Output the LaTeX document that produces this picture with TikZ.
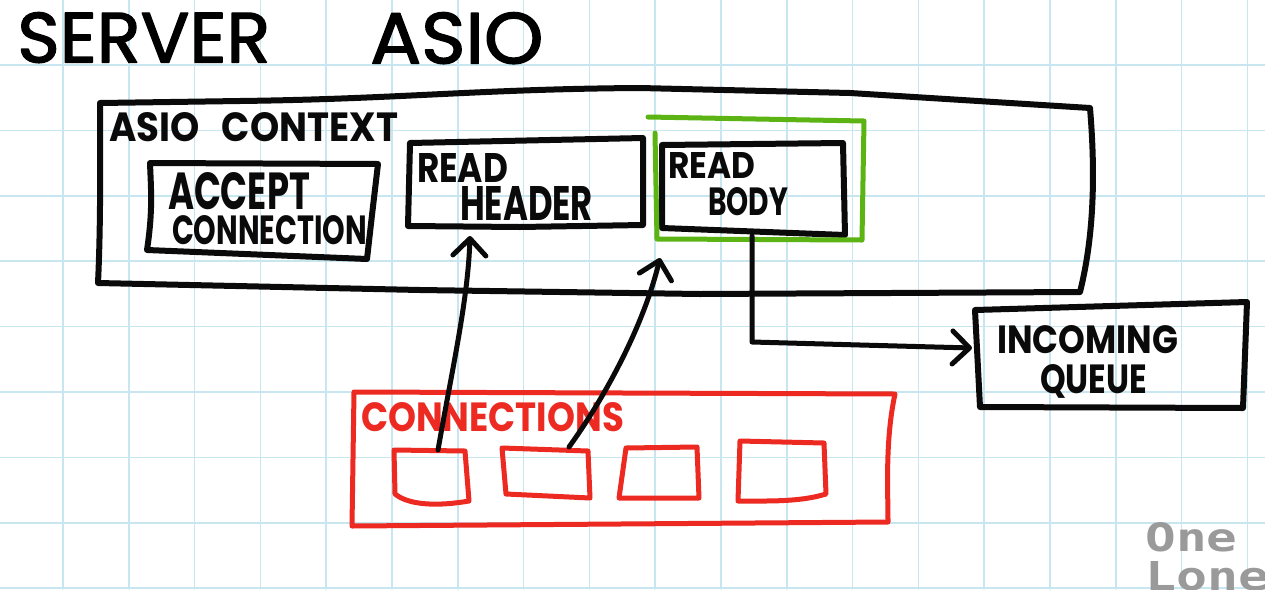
\documentclass[tikz,border=0pt]{standalone}
\usepackage{fontspec}
\setmainfont{Poppins}
\newfontfamily\titlefont{Poppins}[FakeBold=2]
\newfontfamily\logofont{DejaVu Sans Mono}
\usepackage{graphicx}
\usetikzlibrary{arrows.meta}

% one unit of the drawing
\newdimen\pxu \pxu=0.02cm

\definecolor{ink}{HTML}{0A0A0A}
\definecolor{redink}{HTML}{EC2A22}
\definecolor{greenink}{HTML}{5CB414}
\definecolor{gridblue}{HTML}{C8E6F0}
\definecolor{logogray}{HTML}{9A9A9A}

% marker lettering squeezed into a given box: [colour]{name}{x,y}{width}{height}{text}
\newcommand{\scrawl}[6][ink]{%
  \node[anchor=north west, inner sep=0pt, outer sep=0pt, text=#1] (#2) at (#3)
    {\resizebox{#4\pxu}{#5\pxu}{\bfseries #6}};}

\begin{document}
\begin{tikzpicture}[x=0.02cm, y=-0.02cm, line cap=round, line join=round,
  inkline/.style={draw=ink, line width=0.12cm},
  redline/.style={draw=redink, line width=0.1cm},
  greenline/.style={draw=greenink, line width=0.1cm},
  inkarrow/.style={draw=ink, line width=0.1cm,
    -{Straight Barb[length=0.34cm, width=0.66cm, round]}},
  gridline/.style={draw=gridblue, line width=0.03cm}]

\useasboundingbox (0,0) rectangle (1265,589);
\clip (0,0) rectangle (1265,589);
\fill[white] (0,0) rectangle (1265,589);

% squared paper
\foreach \i in {0,...,20} \draw[gridline] ({-2.8+65.8*\i},0) -- ({-2.8+65.8*\i},589);
\foreach \j in {0,...,9} \draw[gridline] (0,{-0.4+65.4*\j}) -- (1265,{-0.4+65.4*\j});

% title
\node[anchor=north west, inner sep=0pt] (titleA) at (17,12)
  {\resizebox{253\pxu}{50\pxu}{\titlefont SERVER}};
\node[anchor=north west, inner sep=0pt] (titleB) at (370,12)
  {\resizebox{173\pxu}{51\pxu}{\titlefont ASIO}};

% asio context
\draw[inkline] (100,103) -- (240,101) .. controls (400,99) and (480,89) .. (640,88)
  -- (850,93) -- (1090,108) .. controls (1096,180) and (1093,240) .. (1080,292)
  -- (700,294) -- (420,290) -- (98,283) .. controls (101,220) and (100,150) .. cycle;
\scrawl{ctxlabel}{109,112}{289}{29}{ASIO\hspace{0.6em}CONTEXT}

% accept connection
\draw[inkline] (150,163) -- (378,164) -- (372,215) -- (367,259) -- (147,250)
  .. controls (153,210) and (151,190) .. cycle;
\scrawl{acc1}{168,172}{142}{37}{ACCEPT}
\scrawl{acc2}{172,215}{195}{29}{CONNECTION}

% read header
\draw[inkline] (410,143) -- (643,138) -- (643,225) -- (520,227) -- (408,226) -- cycle;
\scrawl{hdr1}{417,153}{91}{29}{READ}
\scrawl{hdr2}{460,186}{133}{34}{HEADER}

% read body, ringed in green
\draw[inkline] (662,145) -- (843,143) -- (845,235) -- (662,228) -- cycle;
\scrawl{body1}{668,152}{87}{26}{READ}
\scrawl{body2}{708,187}{80}{28}{BODY}
\draw[greenline] (655,133) -- (657,239) -- (862,240) -- (864,121) -- (648,117);

% incoming queue
\draw[inkline] (975,310) -- (1247,302) -- (1243,408) -- (980,407) -- cycle;
\scrawl{inq1}{997,325}{181}{28}{INCOMING}
\scrawl{inq2}{1040,364}{107}{29}{QUEUE}

% connections
\draw[redline] (354,392) -- (895,394) .. controls (885,440) and (888,490) .. (888,522)
  -- (352,526) -- cycle;
\scrawl[redink]{connlabel}{361,402}{263}{29}{CONNECTIONS}
\draw[redline] (394,450) -- (465,451) -- (469,501) .. controls (440,506) and (410,506) .. (395,494) -- cycle;
\draw[redline] (502,448) -- (588,451) -- (590,498) -- (506,494) -- cycle;
\draw[redline] (626,448) -- (697,447) -- (699,498) -- (619,498) -- cycle;
\draw[redline] (740,441) -- (824,443) -- (826,494) .. controls (800,502) and (770,501) .. (738,501) -- cycle;

% connector end points
\coordinate (c1top) at (438,450);
\coordinate (hdrtip) at (470,236);
\coordinate (c2top) at (569,447);
\coordinate (bodytip) at (660,258);
\coordinate (bodybot) at (752,236);
\coordinate (elbow) at (752,342);
\coordinate (queuetip) at (972,348);

\draw[inkarrow] (c1top) .. controls (452,370) and (468,300) .. (hdrtip);
\draw[inkarrow] (c2top) .. controls (610,390) and (645,320) .. (bodytip);
\draw[inkarrow] (bodybot) -- (elbow) -- (860,345) -- (queuetip);

% corner logo
\node[anchor=north west, inner sep=0pt, text=logogray] (logoA) at (1145,522)
  {\resizebox{92\pxu}{29\pxu}{\logofont\bfseries One}};
\node[anchor=north west, inner sep=0pt, text=logogray] (logoB) at (1145,561)
  {\resizebox{124\pxu}{29\pxu}{\logofont\bfseries Lone}};
\end{tikzpicture}
\end{document}
